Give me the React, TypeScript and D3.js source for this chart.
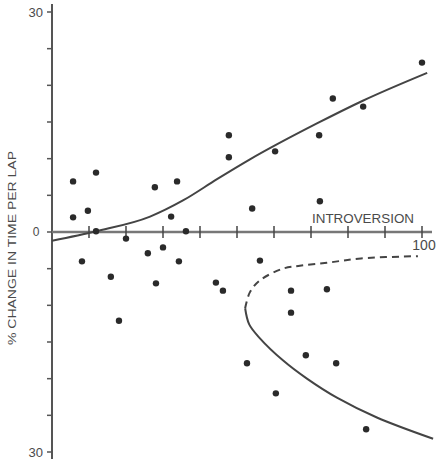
import React from "react";
import * as d3 from "d3";

// scatter points: introversion score, % change in time per lap
const pointX = [5.7, 11.9, 5.7, 9.7, 11.9, 20.0, 8.1, 15.9, 25.9, 18.1, 27.8, 33.8, 32.2, 36.2, 30.0, 34.3, 28.1, 44.3, 46.2, 47.8, 60.3, 54.1, 56.2, 64.6, 47.8, 75.9, 72.2, 84.1, 100.0, 72.4, 74.3, 64.6, 68.6, 52.7, 76.8, 60.5, 84.9];
const pointY = [6.9, 8.1, 2.0, 2.9, 0.1, -0.9, -4.0, -6.1, -2.9, -12.1, 6.1, 6.9, 2.1, 0.1, -2.1, -4.0, -7.0, -6.9, -8.0, 10.2, 11.0, 3.2, -3.9, -8.0, 13.2, 18.2, 13.2, 17.1, 23.1, 4.2, -7.8, -11.0, -16.8, -17.9, -17.9, -22.0, -26.9];

// fitted curves
const trendX = [0, 11.9, 26.5, 35.4, 44.6, 53.5, 71.6, 84.0, 101.4];
const trendY = [-1.2, 0.1, 2.1, 4.3, 7.2, 9.9, 14.8, 17.9, 21.7];
const lowerX = [52.2, 53.3, 56.2, 62.4, 68.9, 77.0, 87.8, 103.0];
const lowerY = [-10.4, -12.6, -14.5, -17.5, -20.0, -22.6, -25.3, -28.2];
const dashX = [52.2, 53.5, 56.2, 62.4, 67.0, 74.3, 83.5, 98.9];
const dashY = [-10.4, -8.2, -6.6, -5.0, -4.6, -4.2, -3.6, -3.3];

const xTicks = [10, 20, 30, 40, 50, 60, 70, 80, 90, 100];
const yTicks = [-30, -25, -20, -15, -10, -5, 0, 5, 10, 15, 20, 25, 30];

export default function App() {
  const width = 444;
  const height = 468;
  const x = d3.scaleLinear().domain([0, 100]).range([52, 422]);
  const y = d3.scaleLinear().domain([-30, 30]).range([452, 12]);

  const zip = (a: number[], b: number[]) => a.map((v, i) => [v, b[i]] as [number, number]);
  const lineWith = (curve: d3.CurveFactory) =>
    d3
      .line<[number, number]>()
      .x((d) => x(d[0]))
      .y((d) => y(d[1]))
      .curve(curve);

  const ink = "#2a2a2a";
  const textColor = "#4a4a4a";
  const font = "Liberation Sans, Arial, sans-serif";

  return (
    <svg width={width} height={height} style={{ position: "absolute", left: 0, top: 0, background: "#fff" }}>
      {/* y axis */}
      <line x1={x(0)} x2={x(0)} y1={4} y2={459} stroke="#555" strokeWidth={2} />
      {yTicks.map((t) => (
        <line key={t} x1={x(0) - 5} x2={x(0)} y1={y(t)} y2={y(t)} stroke="#555" strokeWidth={1.5} />
      ))}
      <text x={43} y={17} textAnchor="end" fontSize={13} fill={textColor} fontFamily={font}>30</text>
      <text x={43} y={457} textAnchor="end" fontSize={13} fill={textColor} fontFamily={font}>30</text>
      <text x={36} y={236} textAnchor="middle" fontSize={12} fill={textColor} fontFamily={font}>0</text>
      <text
        transform={`translate(16, 248) rotate(-90)`}
        textAnchor="middle"
        fontSize={11}
        fill={textColor}
        fontFamily={font}
        textLength={194}
        lengthAdjust="spacingAndGlyphs"
      >
        % CHANGE IN TIME PER LAP
      </text>

      {/* x axis */}
      <line x1={x(0)} x2={432} y1={y(0)} y2={y(0)} stroke="#777" strokeWidth={2.5} />
      {xTicks.map((t) => (
        <line key={t} x1={x(t)} x2={x(t)} y1={y(0) - 6} y2={y(0) + 6} stroke="#444" strokeWidth={1.5} />
      ))}
      <text
        x={312}
        y={223}
        fontSize={13}
        fill={textColor}
        fontFamily={font}
        textLength={102}
        lengthAdjust="spacingAndGlyphs"
      >
        INTROVERSION
      </text>
      <text x={424} y={250} textAnchor="middle" fontSize={14} fill={textColor} fontFamily={font}>100</text>

      {/* curves */}
      <path d={lineWith(d3.curveMonotoneX)(zip(trendX, trendY)) ?? ""} fill="none" stroke="#444" strokeWidth={2} />
      <path d={lineWith(d3.curveCatmullRom)(zip(lowerX, lowerY)) ?? ""} fill="none" stroke="#444" strokeWidth={2} />
      <path
        d={lineWith(d3.curveCatmullRom)(zip(dashX, dashY)) ?? ""}
        fill="none"
        stroke="#444"
        strokeWidth={2}
        strokeDasharray="7,5"
      />

      {/* points */}
      {pointX.map((px, i) => (
        <circle key={i} cx={x(px)} cy={y(pointY[i])} r={3.2} fill={ink} />
      ))}
    </svg>
  );
}
